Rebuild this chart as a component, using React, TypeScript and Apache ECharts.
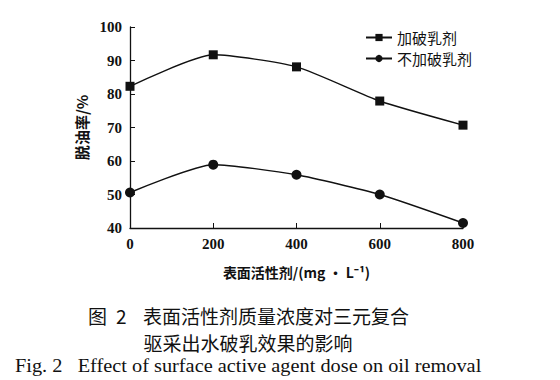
import React, { useEffect, useRef } from "react";
import * as echarts from "echarts";

const xValues = [0, 200, 400, 600, 800];
const withDemulsifier = [82.3, 91.7, 88.1, 77.9, 70.7];
const withoutDemulsifier = [50.6, 58.9, 55.9, 50.0, 41.5];
const seriesNames = ["加破乳剂", "不加破乳剂"];

export default function App() {
  const ref = useRef<HTMLDivElement>(null);
  useEffect(() => {
    if (!ref.current) return;
    const chart = echarts.init(ref.current, null, { renderer: "svg" });
    const serif = "'Times New Roman', 'Liberation Serif', serif";
    const cjk = "Noto Sans CJK SC";
    chart.setOption({
      animation: false,
      backgroundColor: "#fff",
      grid: { left: 130, right: 97, top: 27, bottom: 152 },
      legend: {
        left: 360,
        top: 25,
        orient: "vertical",
        itemWidth: 26,
        itemHeight: 9,
        itemGap: 6,
        textStyle: { fontFamily: cjk, fontSize: 15, lineHeight: 15, color: "#111" },
        data: seriesNames,
      },
      xAxis: {
        type: "value",
        min: 0,
        max: 800,
        interval: 200,
        name: "表面活性剂/(mg · L⁻¹)",
        nameLocation: "middle",
        nameGap: 37,
        nameTextStyle: { fontFamily: cjk, fontSize: 14, fontWeight: "bold", color: "#111" },
        axisLine: { lineStyle: { color: "#111", width: 1.3 } },
        axisTick: { inside: true, length: 5, lineStyle: { color: "#111" } },
        axisLabel: { fontFamily: serif, fontSize: 15, fontWeight: "bold", color: "#111", margin: 8 },
        splitLine: { show: false },
      },
      yAxis: {
        type: "value",
        min: 40,
        max: 100,
        interval: 10,
        name: "脱油率/%",
        nameLocation: "middle",
        nameRotate: 90,
        nameGap: 32,
        nameTextStyle: { fontFamily: cjk, fontSize: 15, fontWeight: "bold", color: "#111" },
        axisLine: { show: true, lineStyle: { color: "#111", width: 1.3 } },
        axisTick: { show: true, inside: true, length: 5, lineStyle: { color: "#111" } },
        axisLabel: { fontFamily: serif, fontSize: 15, fontWeight: "bold", color: "#111", margin: 8 },
        splitLine: { show: false },
      },
      series: [
        {
          name: seriesNames[0],
          type: "line",
          smooth: 0.2,
          symbol: "rect",
          symbolSize: 9,
          data: xValues.map((x, i) => [x, withDemulsifier[i]]),
          lineStyle: { color: "#111", width: 1.4 },
          itemStyle: { color: "#111" },
        },
        {
          name: seriesNames[1],
          type: "line",
          smooth: 0.2,
          symbol: "circle",
          symbolSize: 10,
          data: xValues.map((x, i) => [x, withoutDemulsifier[i]]),
          lineStyle: { color: "#111", width: 1.4 },
          itemStyle: { color: "#111" },
        },
      ],
      graphic: [
        {
          type: "text",
          x: 88,
          y: 315,
          style: { text: "图", fontFamily: cjk, fontSize: 19, fill: "#111", verticalAlign: "middle" },
        },
        {
          type: "text",
          x: 116,
          y: 315,
          style: { text: "2", fontFamily: cjk, fontSize: 19, fill: "#111", verticalAlign: "middle" },
        },
        {
          type: "text",
          x: 143,
          y: 315,
          style: { text: "表面活性剂质量浓度对三元复合", fontFamily: cjk, fontSize: 19, fill: "#111", verticalAlign: "middle" },
        },
        {
          type: "text",
          x: 248,
          y: 342,
          style: { text: "驱采出水破乳效果的影响", fontFamily: cjk, fontSize: 19, fill: "#111", align: "center", verticalAlign: "middle" },
        },
        {
          type: "text",
          x: 15,
          y: 366,
          scaleX: 1.13,
          style: { text: "Fig. 2   Effect of surface active agent dose on oil removal", fontFamily: serif, fontSize: 18, fill: "#111", verticalAlign: "middle" },
        },
      ],
    });
    return () => chart.dispose();
  }, []);
  return <div ref={ref} style={{ width: 560, height: 380, position: "absolute", left: 0, top: 0 }} />;
}
